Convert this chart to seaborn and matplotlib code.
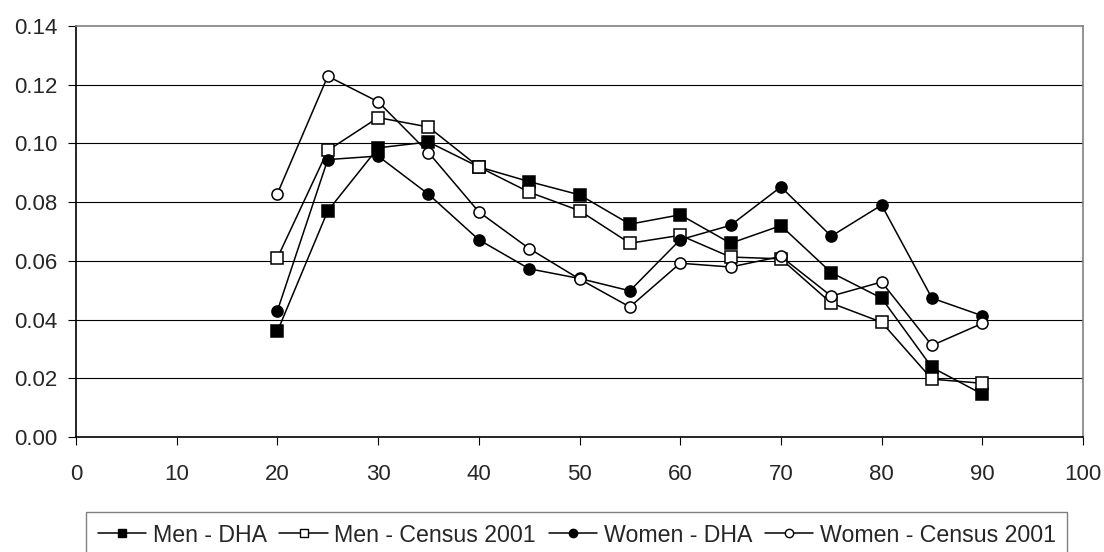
import matplotlib
matplotlib.use("Agg")
import matplotlib.pyplot as plt
from matplotlib.lines import Line2D
from matplotlib.ticker import FormatStrFormatter, MultipleLocator
import numpy as np
import pandas as pd
import seaborn as sns

# age groups (x) and the four series
ages = [20, 25, 30, 35, 40, 45, 50, 55, 60, 65, 70, 75, 80, 85, 90]
men_dha = [0.036, 0.077, 0.0985, 0.1005, 0.092, 0.087, 0.0825, 0.0725, 0.0757, 0.066,
           0.072, 0.056, 0.0473, 0.0237, 0.0146]
men_census = [0.061, 0.0976, 0.1088, 0.1056, 0.092, 0.0834, 0.0771, 0.066, 0.0687, 0.0613,
              0.0607, 0.0456, 0.0391, 0.0197, 0.0183]
women_dha = [0.043, 0.0945, 0.0957, 0.0827, 0.0672, 0.0573, 0.054, 0.0498, 0.0672, 0.0721,
             0.0852, 0.0684, 0.079, 0.0473, 0.0413]
women_census = [0.0829, 0.1229, 0.1142, 0.0969, 0.0767, 0.0642, 0.0538, 0.0443, 0.0592, 0.0579,
                0.0615, 0.048, 0.0528, 0.0312, 0.0387]

labels = ['Men - DHA', 'Men - Census 2001', 'Women - DHA', 'Women - Census 2001']
series = [men_dha, men_census, women_dha, women_census]
markers = ['s', 's', 'o', 'o']
faces = ['black', 'white', 'black', 'white']

df = pd.DataFrame({
    'Age': ages * 4,
    'Share': np.concatenate(series),
    'Series': np.repeat(labels, len(ages)),
})

sns.set_theme(style='white')
plt.rcParams['font.family'] = ['Liberation Sans', 'DejaVu Sans']

fig = plt.figure(figsize=(11.04, 5.52), dpi=100)
ax = fig.add_axes([76 / 1104, 1 - 437 / 552, (1083 - 76) / 1104, (437 - 26) / 552])

for lab, mk, fc in zip(labels, markers, faces):
    sns.lineplot(data=df[df['Series'] == lab], x='Age', y='Share', ax=ax,
                 color='black', linewidth=1.1, marker=mk, markersize=8,
                 markerfacecolor=fc, markeredgecolor='black', markeredgewidth=1.1,
                 legend=False)

ax.set_xlim(0, 100)
ax.set_ylim(0, 0.14)
ax.xaxis.set_major_locator(MultipleLocator(10))
ax.yaxis.set_major_locator(MultipleLocator(0.02))
ax.yaxis.set_major_formatter(FormatStrFormatter('%.2f'))
ax.set_xlabel('')
ax.set_ylabel('')

for y in np.arange(0.02, 0.13, 0.02):
    ax.axhline(y, color='black', linewidth=0.8, zorder=0)

ax.spines['left'].set_color('black')
ax.spines['bottom'].set_color('black')
ax.spines['top'].set_color('#808080')
ax.spines['right'].set_color('#808080')
for s in ax.spines.values():
    s.set_linewidth(1.2)

ax.tick_params(axis='x', direction='out', length=5.5, width=0.8, color='black',
               labelsize=16, pad=14, bottom=True)
ax.tick_params(axis='y', direction='out', length=5.5, width=0.8, color='black',
               labelsize=16, pad=8, left=True)

handles = [Line2D([], [], color='black', linewidth=1.1, marker=mk, markersize=6,
                  markerfacecolor=fc, markeredgecolor='black', markeredgewidth=1.0)
           for mk, fc in zip(markers, faces)]
leg = fig.legend(handles, labels, loc='upper left', ncol=4,
                 bbox_to_anchor=(86 / 1104, 1 - 512 / 552),
                 prop={'size': 16.7}, frameon=True, fancybox=False, edgecolor='#606060',
                 handlelength=2.1, handletextpad=0.27, columnspacing=0.55,
                 borderpad=0.5, borderaxespad=0)
leg.get_frame().set_linewidth(1.0)

fig.savefig('out.png', dpi=100)
